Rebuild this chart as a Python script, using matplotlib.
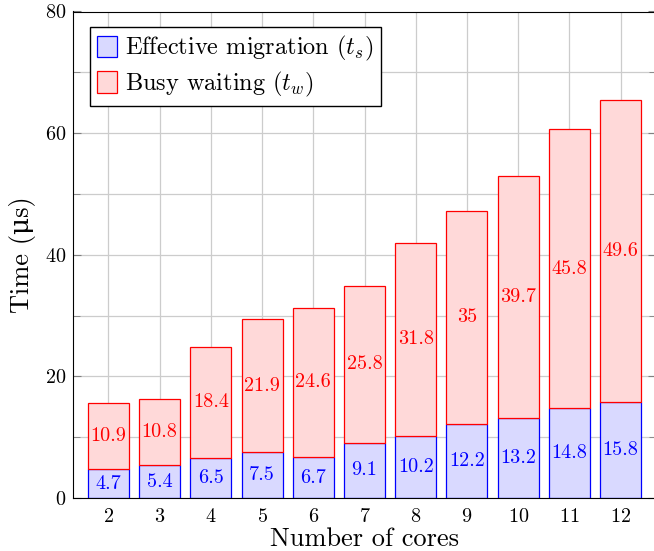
import numpy as np
import matplotlib
matplotlib.use("Agg")
import matplotlib.pyplot as plt

plt.rcParams['font.family'] = ['cmr10', 'DejaVu Serif']
plt.rcParams['mathtext.fontset'] = 'cm'
plt.rcParams['axes.unicode_minus'] = False
plt.rcParams['axes.formatter.use_mathtext'] = True

# data
cores = [2, 3, 4, 5, 6, 7, 8, 9, 10, 11, 12]
t_s = [4.7, 5.4, 6.5, 7.5, 6.7, 9.1, 10.2, 12.2, 13.2, 14.8, 15.8]
t_w = [10.9, 10.8, 18.4, 21.9, 24.6, 25.8, 31.8, 35, 39.7, 45.8, 49.6]
yticks = [0, 20, 40, 60, 80]

fig = plt.figure(figsize=(6.54, 5.51), dpi=100)
ax = fig.add_axes([73/654, 53/551, 583/654, 486.5/551])

x = np.array(cores)
s = np.array(t_s)
w = np.array(t_w)

ax.bar(x, s, width=0.8, color='#d9d9ff', edgecolor='blue', linewidth=0.9,
       label=r'Effective migration ($t_s$)', zorder=2)
ax.bar(x, w, width=0.8, bottom=s, color='#ffd9d9', edgecolor='red', linewidth=0.9,
       label=r'Busy waiting ($t_w$)', zorder=2)

for xi, si, wi in zip(x, s, w):
    ax.text(xi, si / 2, f"{si:g}", ha='center', va='center', color='blue', fontsize=14.5, zorder=3)
    ax.text(xi, si + wi / 2, f"{wi:g}", ha='center', va='center', color='red', fontsize=14.5, zorder=3)

ax.set_xlim(1.31, 12.69)
ax.set_ylim(0, 80)
ax.set_xticks(cores)
ax.set_yticks(yticks)
ax.set_yticks(np.arange(10, 80, 20), minor=True)
ax.tick_params(axis='both', which='both', direction='in', color='gray', labelsize=14.5)
ax.tick_params(axis='x', length=0, pad=7)
ax.tick_params(axis='y', which='major', length=6, pad=5)
ax.tick_params(axis='y', which='minor', length=5)
ax.tick_params(axis='y', which='both', right=True)
ax.grid(True, which='both', color='#cccccc', linewidth=0.9, zorder=0)
ax.set_axisbelow(True)
ax.spines['right'].set_visible(False)

ax.set_xlabel('Number of cores', fontsize=19, labelpad=1)
ax.set_ylabel('Time (μs)', fontsize=19, labelpad=6)

leg = ax.legend(loc='upper left', bbox_to_anchor=(0.029, 0.968), borderaxespad=0,
                fontsize=17.5, fancybox=False, edgecolor='black', framealpha=1,
                handlelength=0.8, handleheight=1.0, handletextpad=0.35,
                borderpad=0.3, labelspacing=0.25)
leg.get_frame().set_linewidth(1.0)

fig.savefig('out.png', dpi=100)
